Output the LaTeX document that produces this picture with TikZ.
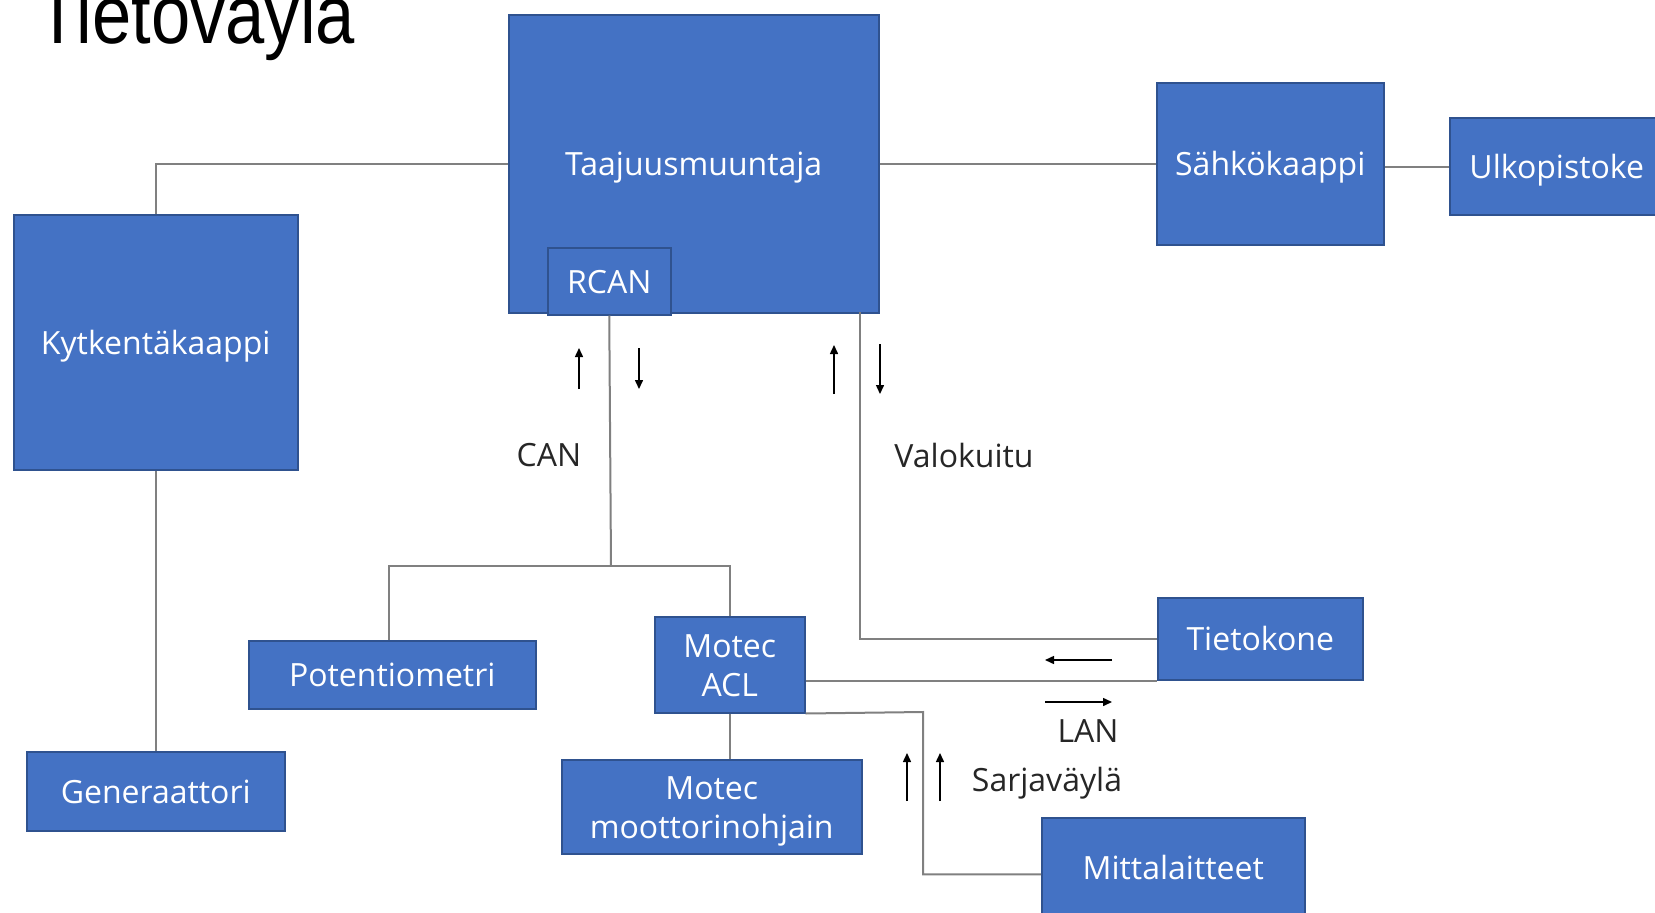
\documentclass[tikz,border=0pt]{standalone}
\usepackage{fontspec}
\setmainfont{Open Sans}
\newfontfamily\titlefont{Liberation Sans}
\usetikzlibrary{arrows.meta,calc}
\definecolor{boxblue}{HTML}{4472C4}
\definecolor{boxedge}{HTML}{2F528F}
\definecolor{wirec}{HTML}{808080}
\definecolor{labelc}{HTML}{262626}
\newcommand{\linestrut}{\rule[-0.3em]{0pt}{1.36em}}
\begin{document}
\begin{tikzpicture}[x=1pt,y=-1pt,
  box/.style={draw=boxedge, line width=1.5pt, fill=boxblue, text=white,
    font=\fontsize{32}{39}\selectfont, inner sep=0pt, anchor=north west, align=center,
    execute at begin node={\linestrut}, execute at end node={\linestrut}},
  twoline/.style={text height=74pt, text depth=10pt},
  wire/.style={draw=wirec, line width=2pt},
  flow/.style={draw=black, line width=1.5pt, -{Triangle[length=9pt,width=8pt]}},
  lbl/.style={text=labelc, font=\fontsize{32}{39}\selectfont, inner sep=0pt}]
\useasboundingbox (0,0) rectangle (1655,913);
\fill[white] (0,0) rectangle (1655,913);

% title
\node[anchor=base west, inner sep=0pt, font=\titlefont\fontsize{83}{90}\selectfont, xscale=0.85] (title) at (36,43) {Tietoväylä};

% boxes
\node[box, minimum width=370pt, minimum height=298pt] (taaj) at (508,14) {Taajuusmuuntaja};
\node[box, minimum width=123pt, minimum height=67pt] (rcan) at (547,247) {RCAN};
\node[box, minimum width=227pt, minimum height=162pt] (sahko) at (1156,82) {Sähkökaappi};
\node[box, minimum width=214pt, minimum height=97pt] (ulko) at (1449,117) {Ulkopistoke};
\node[box, minimum width=284pt, minimum height=255pt] (kyt) at (13,214) {Kytkentäkaappi};
\node[box, minimum width=258pt, minimum height=79pt] (gen) at (26,751) {Generaattori};
\node[box, minimum width=287pt, minimum height=68pt] (pot) at (248,640) {Potentiometri};
\node[box, twoline, minimum width=150pt, minimum height=96pt] (acl) at (654,616) {Motec\\ACL};
\node[box, twoline, minimum width=300pt, minimum height=94pt] (moot) at (561,759) {Motec\\moottorinohjain};
\node[box, minimum width=205pt, minimum height=82pt] (tieto) at (1157,597) {Tietokone};
\node[box, minimum width=263pt, minimum height=99pt] (mitta) at (1041,817) {Mittalaitteet};

% connection points
\coordinate (j) at (611,566);
\coordinate (vk) at (860,312);
\coordinate (sj) at (923,712);

% wires
\draw[wire] (kyt.north) |- (taaj.west);
\draw[wire] (taaj.east) -- (sahko.west);
\draw[wire] (sahko.east |- 0,167) -- (ulko.west |- 0,167);
\draw[wire] (kyt.south) -- (gen.north);
\draw[wire] (rcan.south) -- (j);
\draw[wire] (pot.north -| 389,0) |- (j) -| (acl.north);
\draw[wire] (acl.south) -- (acl.south |- moot.north);
\draw[wire] (vk) |- (tieto.west);
\draw[wire] (acl.east |- tieto.south west) -- (tieto.south west);
\draw[wire] (acl.south east) -- (sj) |- ($(mitta.west)+(0,7)$);

% direction arrows
\draw[flow] (579,389) -- (579,348);
\draw[flow] (639,348) -- (639,389);
\draw[flow] (834,394) -- (834,345);
\draw[flow] (880,344) -- (880,394);
\draw[flow] (1112,660) -- (1045,660);
\draw[flow] (1045,702) -- (1112,702);
\draw[flow] (907,801) -- (907,753);
\draw[flow] (940,801) -- (940,753);

% labels
\node[lbl] (lcan) at (549,455) {CAN};
\node[lbl] (lvalo) at (964,455) {Valokuitu};
\node[lbl] (llan) at (1088,731) {LAN};
\node[lbl] (lsarja) at (1047,783) {Sarjaväylä};
\end{tikzpicture}
\end{document}
